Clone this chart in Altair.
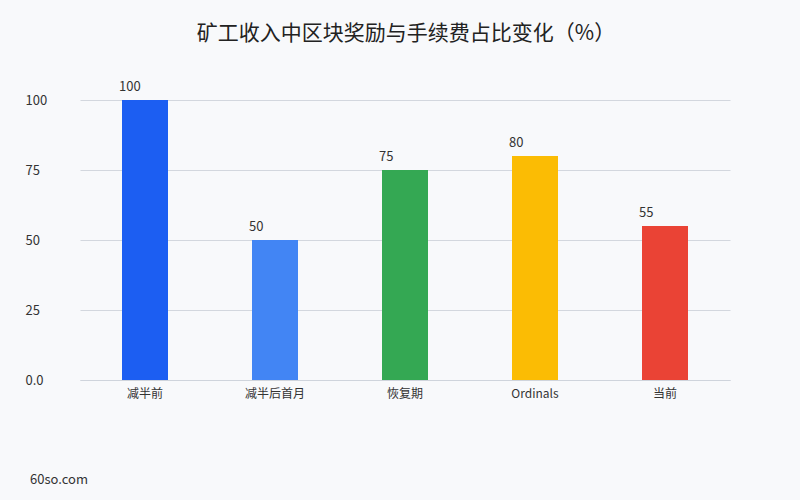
import altair as alt
import pandas as pd

categories = ["减半前", "减半后首月", "恢复期", "Ordinals", "当前"]
values = [100, 50, 75, 80, 55]
colors = ["#1c5ef2", "#4285f4", "#34a853", "#fbbc04", "#ea4335"]

df = pd.DataFrame({"cat": categories, "val": values, "color": colors})

FONT = "Noto Sans CJK SC"

base = alt.Chart(df).encode(
    x=alt.X("cat:N", sort=categories, title=None,
            scale=alt.Scale(paddingInner=0.0, paddingOuter=0.0),
            axis=alt.Axis(labelAngle=0, labelFont=FONT, labelFontSize=12,
                          labelColor="#333333", labelPadding=8,
                          ticks=False, domainColor="#cfd4dc", grid=False)),
    y=alt.Y("val:Q", title=None,
            scale=alt.Scale(domain=[0, 100], nice=False),
            axis=alt.Axis(values=[0, 25, 50, 75, 100],
                          labelExpr="datum.value == 0 ? '0.0' : datum.label",
                          labelAlign="left", labelPadding=55, tickSize=0, ticks=False,
                          labelFont=FONT, labelFontSize=13, labelColor="#333333",
                          domain=False, gridColor="#d3d7de")),
)

bars = base.mark_bar(size=46).encode(color=alt.Color("color:N", scale=None))

labels = base.mark_text(align="left", baseline="bottom", dx=-26, dy=-6,
                        font=FONT, fontSize=13, color="#333333").encode(text="val:Q")

watermark = alt.Chart(pd.DataFrame({"t": ["60so.com"]})).mark_text(
    align="left", baseline="middle", font=FONT, fontSize=13, color="#333333"
).encode(text="t:N", x=alt.value(-50), y=alt.value(380))

chart = alt.layer(bars, labels, watermark).properties(
    width=650, height=280,
    autosize=alt.AutoSizeParams(type="none"),
    padding={"left": 80, "top": 100, "right": 70, "bottom": 120},
    background="#f8f9fb",
    title=alt.TitleParams("矿工收入中区块奖励与手续费占比变化（%）", font=FONT,
                          fontSize=21, fontWeight="normal", color="#222222",
                          anchor="middle", offset=37, dx=1),
).configure_view(stroke=None)

chart.save("out.html", embed_options={"renderer": "svg", "actions": False})
